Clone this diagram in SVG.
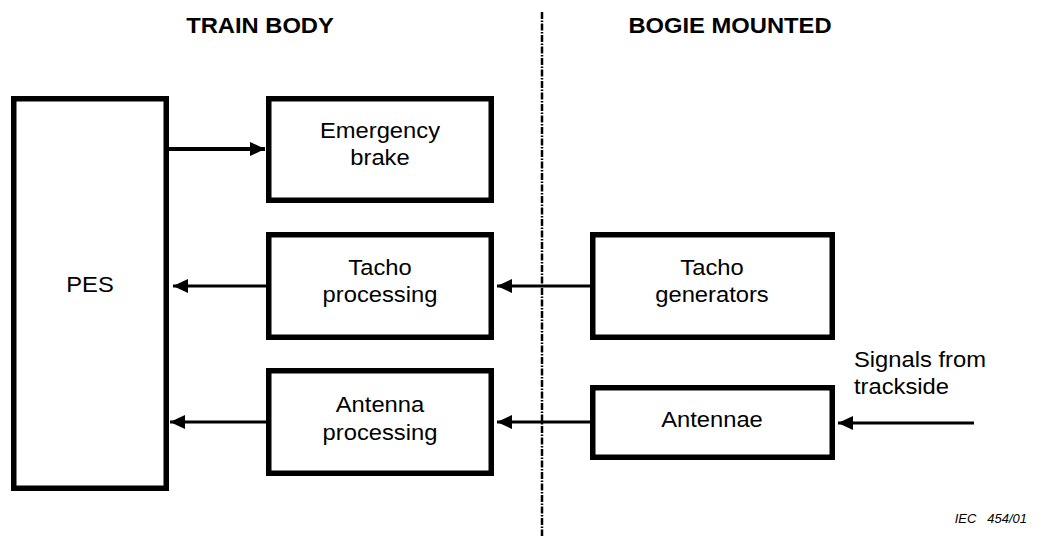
<svg xmlns="http://www.w3.org/2000/svg" width="1042" height="536" viewBox="0 0 1042 536">
<style>
.box{fill:#fff;stroke:#000;stroke-width:5.5}
.t{font-family:"Liberation Sans",Arial,sans-serif;font-size:22px;fill:#000;text-anchor:middle}
.s{text-anchor:start}
.h{font-family:"Liberation Sans",Arial,sans-serif;font-size:22px;font-weight:bold;fill:#000;text-anchor:middle}
.c{fill:none;stroke:#000;stroke-width:3}
</style>
<defs>
<marker id="ah" markerWidth="15" markerHeight="14" refX="15" refY="7" orient="auto" markerUnits="userSpaceOnUse">
<path d="M0,0 L15,7 L0,14 Z" fill="#000"/>
</marker>
</defs>
<rect width="1042" height="536" fill="#fff"/>
<line x1="542" y1="12" x2="542" y2="536" stroke="#000" stroke-width="2.5" stroke-dasharray="7,1.5,1.5,1.5"/>
<g id="headings" transform="scale(1.08,1)">
<text class="h" x="240.74" y="33">TRAIN BODY</text>
<text class="h" x="675.93" y="33">BOGIE MOUNTED</text>
</g>
<g id="pes"><rect class="box" x="13.75" y="98.75" width="152.5" height="389.5"/><g transform="scale(1.08,1)"><text class="t" x="83.33" y="292">PES</text></g></g>
<g id="emergency-brake"><rect class="box" x="268.75" y="98.75" width="222.5" height="101.5"/><g transform="scale(1.08,1)"><text class="t" x="351.85" y="138">Emergency</text><text class="t" x="351.85" y="165">brake</text></g></g>
<g id="tacho-processing"><rect class="box" x="268.75" y="234.75" width="222.5" height="102.5"/><g transform="scale(1.08,1)"><text class="t" x="351.85" y="275">Tacho</text><text class="t" x="351.85" y="302">processing</text></g></g>
<g id="antenna-processing"><rect class="box" x="268.75" y="370.75" width="222.5" height="102.5"/><g transform="scale(1.08,1)"><text class="t" x="351.85" y="412">Antenna</text><text class="t" x="351.85" y="440">processing</text></g></g>
<g id="tacho-generators"><rect class="box" x="592.75" y="234.75" width="239.5" height="102.5"/><g transform="scale(1.08,1)"><text class="t" x="659.26" y="275">Tacho</text><text class="t" x="659.26" y="302">generators</text></g></g>
<g id="antennae"><rect class="box" x="592.75" y="387.75" width="239.5" height="69.5"/><g transform="scale(1.08,1)"><text class="t" x="659.26" y="427">Antennae</text></g></g>
<g id="signals-label" transform="scale(1.08,1)"><text class="t s" x="790.74" y="367">Signals from</text><text class="t s" x="790.74" y="394">trackside</text></g>
<text x="1027" y="523" font-family="'Liberation Sans',Arial,sans-serif" font-size="13" font-style="italic" text-anchor="end" xml:space="preserve">IEC   454/01</text>
<g id="connectors">
<line class="c" x1="169" y1="149" x2="265" y2="149" marker-end="url(#ah)" style="stroke-width:4"/>
<line class="c" x1="266" y1="286" x2="173" y2="286" marker-end="url(#ah)"/>
<line class="c" x1="266" y1="422" x2="170" y2="422" marker-end="url(#ah)"/>
<line class="c" x1="590" y1="286" x2="497" y2="286" marker-end="url(#ah)"/>
<line class="c" x1="590" y1="422" x2="497" y2="422" marker-end="url(#ah)"/>
<line class="c" x1="974" y1="423" x2="838" y2="423" marker-end="url(#ah)"/>
</g>
</svg>
